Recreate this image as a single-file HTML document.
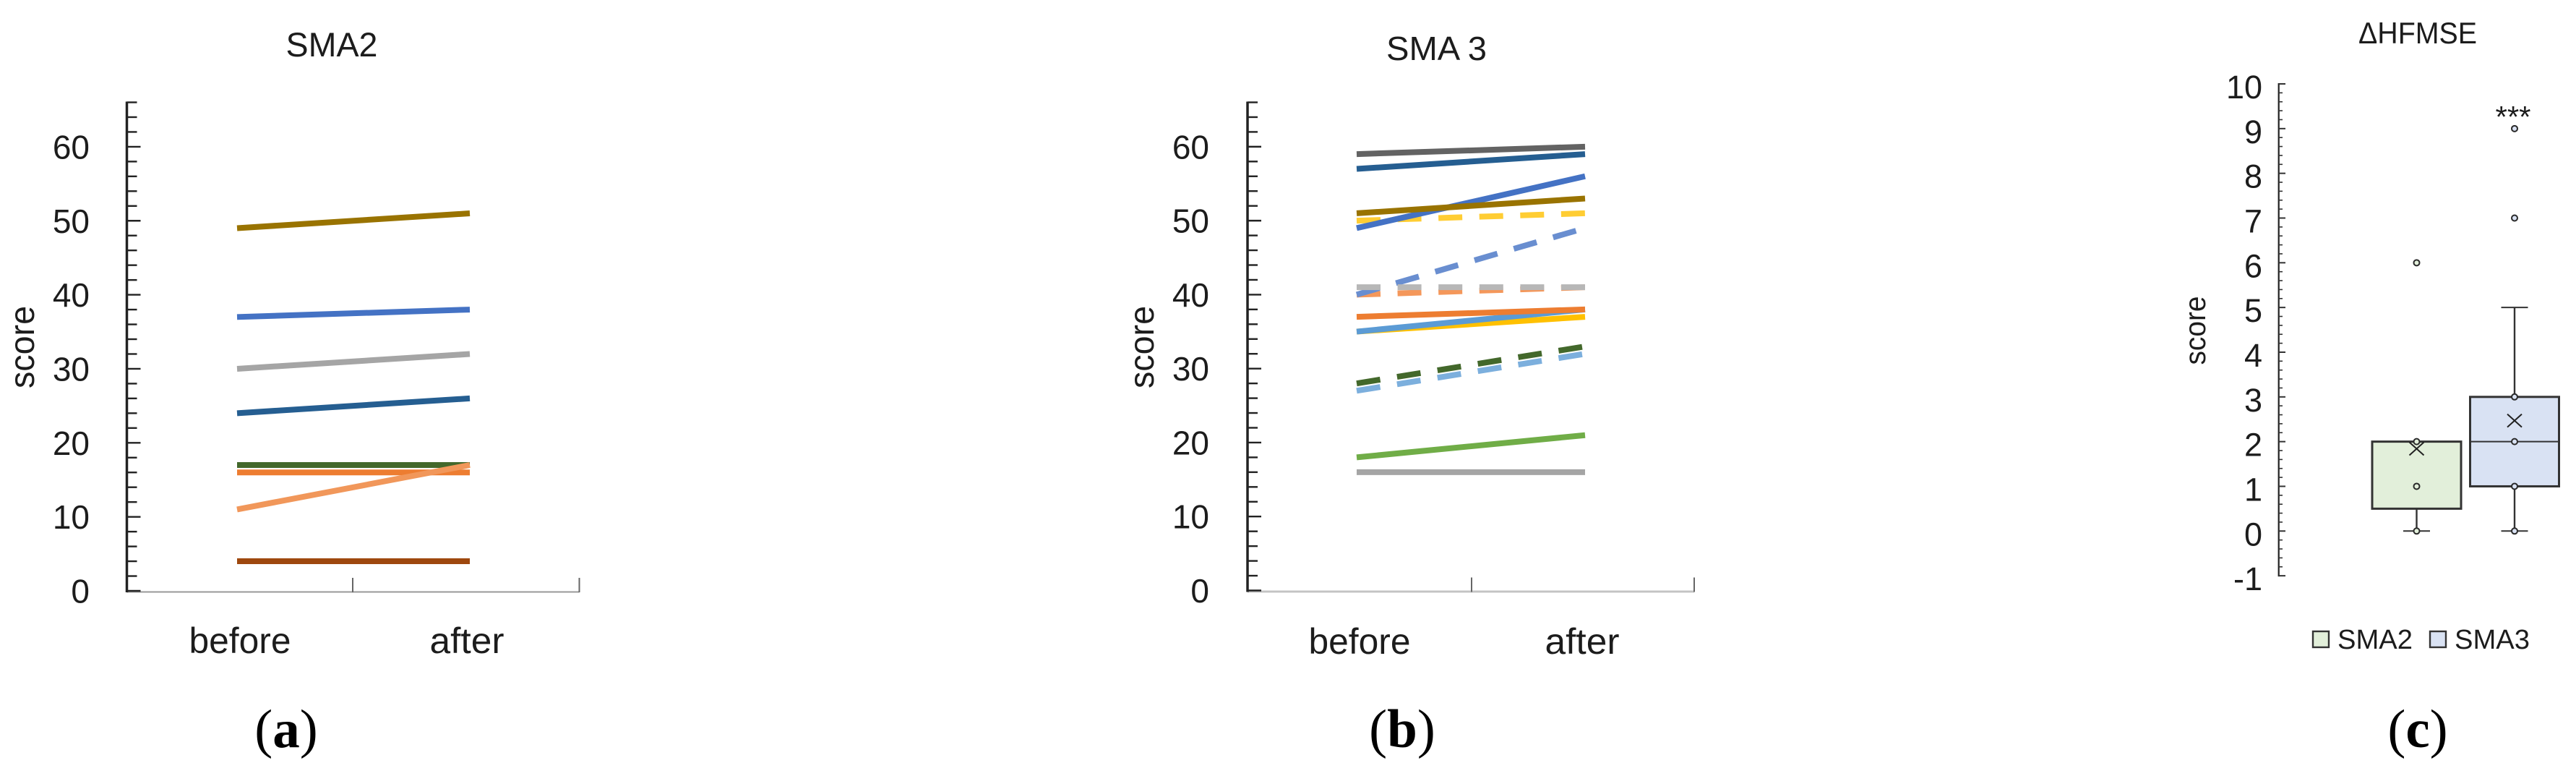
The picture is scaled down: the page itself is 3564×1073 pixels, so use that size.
<!DOCTYPE html>
<html lang="en">
<head>
<meta charset="utf-8">
<title>SMA2, SMA3 and delta HFMSE score charts</title>
<style>
html,body{margin:0;padding:0;background:#fff;width:3564px;height:1073px;overflow:hidden}
svg{display:block}
text{font-family:"Liberation Sans",sans-serif;fill:#1c1c1c}
.panel{font-family:"Liberation Serif",serif;font-size:75px;fill:#000;text-anchor:middle}
</style>
</head>
<body>
<svg id="figure" xmlns="http://www.w3.org/2000/svg" width="3564" height="1073" viewBox="0 0 3564 1073">
  <rect x="0" y="0" width="3564" height="1073" fill="#fff"/>
  <g id="chart-a">
    <text x="459" y="78" font-size="47" text-anchor="middle" textLength="127" lengthAdjust="spacingAndGlyphs">SMA2</text>
    <text transform="translate(47,480) rotate(-90)" font-size="48" text-anchor="middle" textLength="114" lengthAdjust="spacingAndGlyphs">score</text>
  </g>
  <g id="chart-b">
    <text x="1987.5" y="83" font-size="46" text-anchor="middle" textLength="139" lengthAdjust="spacingAndGlyphs">SMA 3</text>
    <text transform="translate(1596,480) rotate(-90)" font-size="48" text-anchor="middle" textLength="114" lengthAdjust="spacingAndGlyphs">score</text>
  </g>
  <g id="chart-c">
    <text x="3345" y="60" font-size="42" text-anchor="middle" textLength="164" lengthAdjust="spacingAndGlyphs">ΔHFMSE</text>
    <text transform="translate(3051,457) rotate(-90)" font-size="41" text-anchor="middle" textLength="95" lengthAdjust="spacingAndGlyphs">score</text>
    <text x="3477" y="176" font-size="42" text-anchor="middle" textLength="49" lengthAdjust="spacing">***</text>
  </g>
  <text class="panel" x="396" y="1033">(<tspan font-weight="bold">a</tspan>)</text>
  <text class="panel" x="1940" y="1033">(<tspan font-weight="bold">b</tspan>)</text>
  <text class="panel" x="3345" y="1033">(<tspan font-weight="bold">c</tspan>)</text>
</svg>
<script>
// ---------- shared data ----------
const categories = ['before', 'after'];
const lineTickValues = [0, 10, 20, 30, 40, 50, 60];
const lineAxisMax = 66;
const lineMinorStep = 2;

// ---------- SMA2 series ----------
const sma2Before = [4, 17, 16, 11, 24, 30, 37, 49];
const sma2After = [4, 17, 16, 17, 26, 32, 38, 51];
const sma2Colors = ['#9e480e', '#43682b', '#ed7d31', '#f1975a', '#255e91', '#a5a5a5', '#4472c4', '#997300'];

// ---------- SMA3 series ----------
const sma3Before = [16, 18, 35, 35, 37, 27, 28, 40, 40, 41, 50, 49, 51, 57, 59];
const sma3After = [16, 21, 37, 38, 38, 32, 33, 41, 49, 41, 51, 56, 53, 59, 60];
const sma3Dashed = [false, false, false, false, false, true, true, true, true, true, true, false, false, false, false];
const sma3Colors = ['#a5a5a5', '#70ad47', '#ffc000', '#5b9bd5', '#ed7d31', '#7cafdd', '#43682b', '#f4975a', '#698ed0', '#b7b7b7', '#ffcd33', '#4472c4', '#997300', '#255e91', '#636363'];

// ---------- box plot data ----------
const boxCategories = ['SMA2', 'SMA3'];
const boxTickValues = [-1, 0, 1, 2, 3, 4, 5, 6, 7, 8, 9, 10];
const boxMinorStep = 0.2;
const boxQ1 = [0.5, 1];
const boxMedian = [2, 2];
const boxQ3 = [2, 3];
const boxWhiskerLow = [0, 0];
const boxWhiskerHigh = [2, 5];
const boxMean = [1.84, 2.47];
const boxPoints = [[0, 1, 2, 6], [0, 1, 2, 3, 7, 9]];
const boxFills = ['#e2efda', '#d9e2f3'];

const NS = 'http://www.w3.org/2000/svg';
function make(parent, tag, props, text) {
  const el = document.createElementNS(NS, tag);
  for (const k in props) el.setAttribute(k, props[k]);
  if (text !== undefined) el.textContent = text;
  parent.appendChild(el);
  return el;
}
function linearScale(d0, d1, r0, r1) {
  return v => r0 + (v - d0) * (r1 - r0) / (d1 - d0);
}

function drawSlopeChart(cfg) {
  const root = document.getElementById(cfg.id);
  const y = linearScale(0, lineAxisMax, cfg.y0, cfg.yTop);
  const x = i => cfg.cat0 + i * (cfg.cat1 - cfg.cat0);

  // x axis
  const base = make(root, 'line', {x1: cfg.axisX, x2: cfg.xEnd, y1: cfg.y0 + 1.5, y2: cfg.y0 + 1.5, stroke: cfg.baseColor, 'stroke-width': cfg.baseWidth});
  
  
  [cfg.xMid, cfg.xEnd].forEach(function (tx) {
    const t = make(root, 'line', {x1: tx, x2: tx, y1: cfg.y0 - 18, y2: cfg.y0 + 2, stroke: '#666', 'stroke-width': 2});
    
    
  });

  // y axis
  const axis = make(root, 'line', {x1: cfg.axisX, x2: cfg.axisX, y1: y(lineAxisMax) - 1, y2: cfg.y0 + 2, stroke: '#222', 'stroke-width': 3.5});
  
  
  for (let v = 0; v <= lineAxisMax; v += lineMinorStep) {
    const major = lineTickValues.indexOf(v) >= 0;
    const t = make(root, 'line', {x1: cfg.axisX, x2: cfg.axisX + (major ? 19 : 14), y1: y(v), y2: y(v), stroke: '#222', 'stroke-width': 2.4});
    
    
  }
  lineTickValues.forEach(function (v) {
    const l = make(root, 'text', {x: cfg.labelX, y: y(v) + 16.5, 'font-size': 46, 'text-anchor': 'end'}, String(v));
    
    
  });

  // category labels
  categories.forEach(function (c, i) {
    const l = make(root, 'text', {x: x(i), y: cfg.catY, 'font-size': 50, 'text-anchor': 'middle', textLength: i === 0 ? 141 : 103, lengthAdjust: 'spacingAndGlyphs'}, c);
    
    
  });

  // series
  cfg.before.forEach(function (b, i) {
    const dashed = cfg.dashed && cfg.dashed[i];
    const x1 = x(0) - 4, x2 = x(1) + 4;
    const props = {x1: x1, x2: x2, y1: y(b), y2: y(cfg.after[i]), stroke: cfg.colors[i], 'stroke-width': 8};
    if (dashed) props['stroke-dasharray'] = '33 23.6';
    const s = make(root, 'line', props);
    
    
  });
}

drawSlopeChart({
  id: 'chart-a', name: 'sma2', before: sma2Before, after: sma2After, colors: sma2Colors,
  y0: 817, yTop: 141.5, axisX: 175.5, xMid: 488, xEnd: 801.5, cat0: 332, cat1: 646,
  labelX: 124, catY: 903, baseColor: '#999', baseWidth: 2
});
drawSlopeChart({
  id: 'chart-b', name: 'sma3', before: sma3Before, after: sma3After, colors: sma3Colors, dashed: sma3Dashed,
  y0: 816.5, yTop: 141.5, axisX: 1726, xMid: 2036, xEnd: 2344, cat0: 1881, cat1: 2189,
  labelX: 1673, catY: 904, baseColor: '#c4c4c4', baseWidth: 3
});

// ---------- box plot ----------
(function () {
  const root = document.getElementById('chart-c');
  const y = linearScale(0, 10, 734.3, 116);
  const xc = linearScale(0, 1, 3343.5, 3479);
  const boxW = 123, capW = 37;
  const ink = '#333';

  const axis = make(root, 'line', {x1: 3152.7, x2: 3152.7, y1: y(10) - 1, y2: y(-1) + 1, stroke: '#222', 'stroke-width': 2.2});
  
  
  const minorCount = Math.round((boxTickValues[boxTickValues.length - 1] - boxTickValues[0]) / boxMinorStep);
  for (let i = 0; i <= minorCount; i++) {
    const v = boxTickValues[0] + i * boxMinorStep;
    const major = i % 5 === 0;
    const t = make(root, 'line', {x1: 3152.7, x2: major ? 3162 : 3158, y1: y(v), y2: y(v), stroke: '#333', 'stroke-width': major ? 2 : 1.6});
    
    
  }
  boxTickValues.forEach(function (v) {
    const l = make(root, 'text', {x: 3130, y: y(v) + 20, 'font-size': 45, 'text-anchor': 'end'}, String(v));
    
    
  });

  boxCategories.forEach(function (c, i) {
    const cx = xc(i), n = c.toLowerCase();
    const wh = make(root, 'line', {x1: cx, x2: cx, y1: y(boxWhiskerHigh[i]), y2: y(boxWhiskerLow[i]), stroke: ink, 'stroke-width': 2.4});
    
    
    [boxWhiskerHigh[i], boxWhiskerLow[i]].forEach(function (v) {
      if (v === boxQ3[i]) return;
      const cap = make(root, 'line', {x1: cx - capW / 2, x2: cx + capW / 2, y1: y(v), y2: y(v), stroke: ink, 'stroke-width': 2});
      
      
    });
    const box = make(root, 'rect', {x: cx - boxW / 2, y: y(boxQ3[i]), width: boxW, height: y(boxQ1[i]) - y(boxQ3[i]), fill: boxFills[i], stroke: ink, 'stroke-width': 3});
    
    
    const med = make(root, 'line', {x1: cx - boxW / 2, x2: cx + boxW / 2, y1: y(boxMedian[i]), y2: y(boxMedian[i]), stroke: ink, 'stroke-width': 2});
    
    
    const mx = 10, my = 9, my0 = y(boxMean[i]);
    const mean = make(root, 'path', {d: 'M' + (cx - mx) + ' ' + (my0 - my) + 'L' + (cx + mx) + ' ' + (my0 + my) + 'M' + (cx + mx) + ' ' + (my0 - my) + 'L' + (cx - mx) + ' ' + (my0 + my), fill: 'none', stroke: '#222', 'stroke-width': 2});
    
    
    boxPoints[i].forEach(function (v) {
      const p = make(root, 'circle', {cx: cx, cy: y(v), r: 4, fill: boxFills[i], stroke: '#2a2a2a', 'stroke-width': 2});
      
      
    });
  });

  // legend
  const legendX = [3199, 3361];
  boxCategories.forEach(function (c, i) {
    const n = c.toLowerCase();
    const sw = make(root, 'rect', {x: legendX[i] + 1, y: 873, width: 22, height: 22, fill: boxFills[i], stroke: ink, 'stroke-width': 2.4});
    
    
    const t = make(root, 'text', {x: legendX[i] + 35, y: 897, 'font-size': 38, textLength: 104, lengthAdjust: 'spacingAndGlyphs'}, c);
    
    
  });
})();
</script>
</body>
</html>
